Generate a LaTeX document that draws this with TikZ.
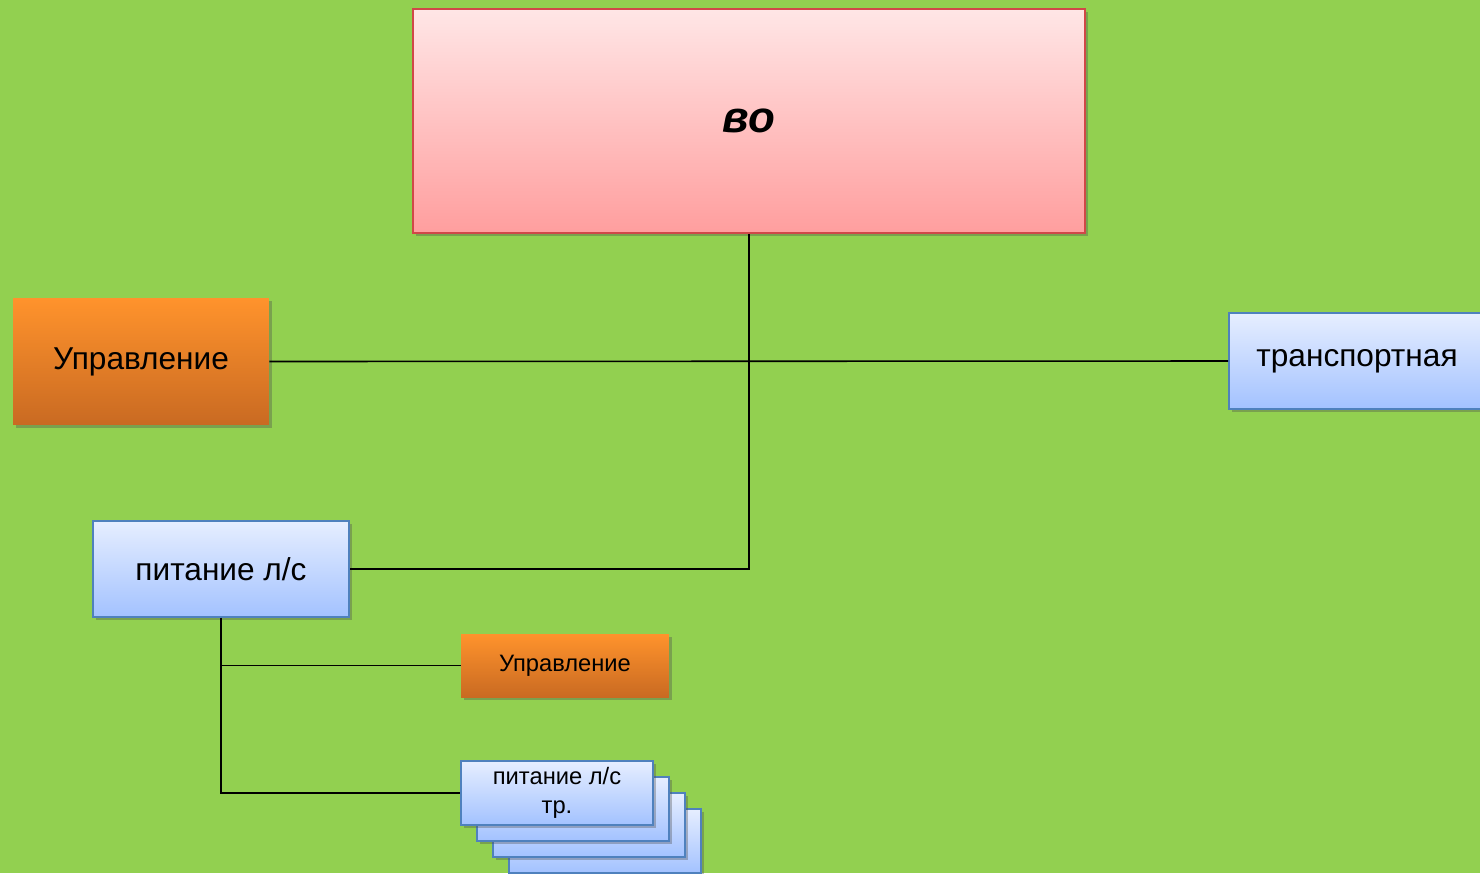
\documentclass[tikz,border=0pt]{standalone}
\usepackage{fontspec}
\setmainfont{Liberation Sans}
\usetikzlibrary{shadows}
\definecolor{bggreen}{HTML}{92D050}
\definecolor{pinktop}{HTML}{FFE6E6}
\definecolor{pinkbot}{HTML}{FF9E9E}
\definecolor{pinkline}{HTML}{D04848}
\definecolor{orangetop}{HTML}{FF932C}
\definecolor{orangebot}{HTML}{C96A22}
\definecolor{bluetop}{HTML}{E6EEFF}
\definecolor{bluebot}{HTML}{A3C2FF}
\definecolor{blueline}{HTML}{4F81BD}
\begin{document}
\begin{tikzpicture}[x=0.02cm, y=-0.02cm,
    boxshadow/.style={drop shadow={shadow xshift=1.5pt, shadow yshift=-1.5pt, opacity=0.35, fill=black!70}},
    pinkbox/.style={draw=pinkline, line width=1pt, top color=pinktop, bottom color=pinkbot, inner sep=0pt, boxshadow},
    orangebox/.style={draw=none, top color=orangetop, bottom color=orangebot, inner sep=0pt, boxshadow},
    bluebox/.style={draw=blueline, line width=1pt, top color=bluetop, bottom color=bluebot, inner sep=0pt, boxshadow},
    link/.style={line width=0.9pt, black}]
    % ===== background =====
    \fill[bggreen] (0,0) rectangle (1480,873);
    \useasboundingbox (0,0) rectangle (1480,873);

    % ===== main boxes =====
    \node[pinkbox, minimum width=13.44cm, minimum height=4.48cm, font=\fontsize{25}{30}\selectfont\bfseries\itshape]
        (vo) at (749,121) {во};
    \node[orangebox, minimum width=5.12cm, minimum height=2.54cm, font=\fontsize{18}{22}\selectfont]
        (uprL) at (141,361.5) {Управление};
    \node[bluebox, minimum width=5.12cm, minimum height=1.92cm, font=\fontsize{18}{22}\selectfont]
        (trans) at (1357,361) {транспортная};
    \node[bluebox, minimum width=5.12cm, minimum height=1.92cm, font=\fontsize{18}{22}\selectfont]
        (pit) at (221,569) {питание л/с};

    % ===== sub boxes =====
    \node[orangebox, minimum width=4.16cm, minimum height=1.26cm, font=\fontsize{13.5}{16}\selectfont]
        (uprS) at (565,665.5) {Управление};
    \foreach \k in {3,2,1} {
        \node[bluebox, minimum width=3.84cm, minimum height=1.28cm]
            (stack\k) at (557+16*\k,793+16*\k) {};
    }
    \node[bluebox, minimum width=3.84cm, minimum height=1.28cm, align=center, font=\fontsize{13.5}{16.5}\selectfont]
        (stack0) at (557,793) {питание л/с\\тр.};

    % ===== connectors =====
    \draw[link] (vo.south) |- (pit.east);
    \draw[link] (uprL.east) -- (trans.west);
    \draw[link] (pit.south) |- (uprS.west);
    \draw[link] (pit.south) |- (stack0.west);
\end{tikzpicture}
\end{document}
